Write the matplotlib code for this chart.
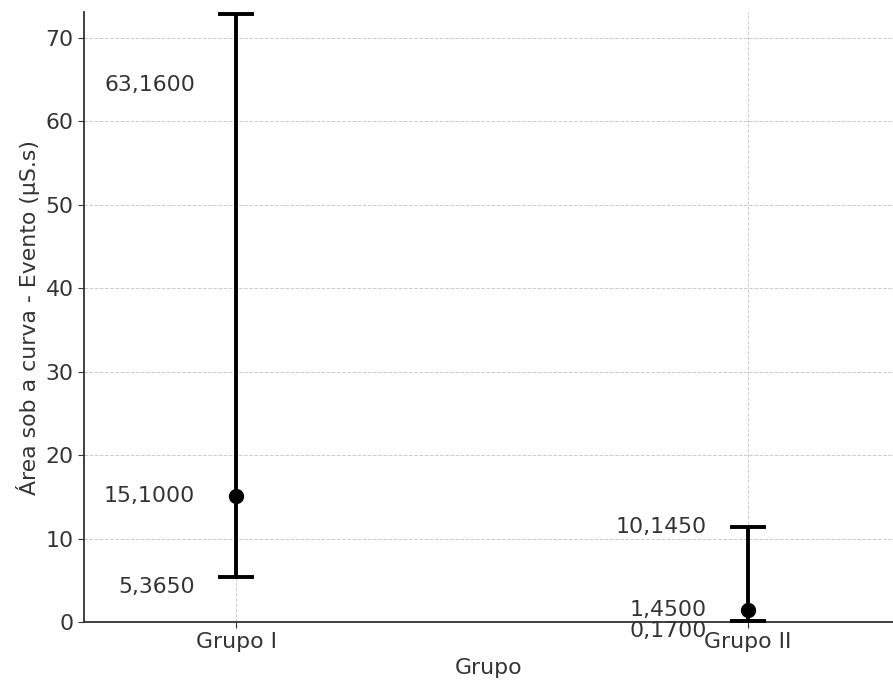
import numpy as np
import matplotlib
matplotlib.use('Agg')
import matplotlib.pyplot as plt

# data : median with lower / upper values per group
GRUPOS  = ['Grupo I', 'Grupo II']
MEDIANA = [15.100, 1.450]
INFER   = [5.365, 0.170]
SUPER   = [63.160, 10.145]

def fmt(v):
    return f'{v:.4f}'.replace('.', ',')

plt.rcParams['font.family'] = 'DejaVu Sans'
TXT = '#333333'
FS = 15.8
fig = plt.figure(figsize=(8.93, 6.83), dpi=100)
ax = fig.add_axes([0.094, 0.0893, 0.906, 0.893])

x = np.arange(len(GRUPOS))
med = np.array(MEDIANA); lo = np.array(INFER); hi = np.array(SUPER)
# error bar : lower = med-lo , upper = hi-lo  (as in the original figure)
yerr = [med - lo, hi - lo]
ax.errorbar(x, med, yerr=yerr, fmt='o', color='black', ecolor='black',
            elinewidth=2.8, capsize=13, capthick=2.8, markersize=10, zorder=3)

dx = 0.08
for i in range(len(GRUPOS)):
    ax.text(x[i]-dx, hi[i], fmt(hi[i]), ha='right', va='bottom', fontsize=FS, color=TXT)
    ax.text(x[i]-dx, med[i], fmt(med[i]), ha='right', va='center', fontsize=FS, color=TXT)
    ax.text(x[i]-dx, lo[i], fmt(lo[i]), ha='right', va='top', fontsize=FS, color=TXT)

ax.set_xticks(x)
ax.set_xticklabels(GRUPOS)
ax.set_xlim(-0.297, 1.283)
ax.set_ylim(0, 73.1)
ax.set_yticks(np.arange(0, 71, 10))
ax.set_xlabel('Grupo', fontsize=FS, color=TXT)
ax.set_ylabel('Área sob a curva - Evento (µS.s)', fontsize=FS, color=TXT)
ax.tick_params(labelsize=FS, colors=TXT, length=4)
ax.grid(True, linestyle='--', color='#cccccc', linewidth=0.7)
ax.set_axisbelow(True)
for s in ['top', 'right']:
    ax.spines[s].set_visible(False)
for s in ['left', 'bottom']:
    ax.spines[s].set_color(TXT)
    ax.spines[s].set_linewidth(1.3)

fig.savefig('out.png', dpi=100)
